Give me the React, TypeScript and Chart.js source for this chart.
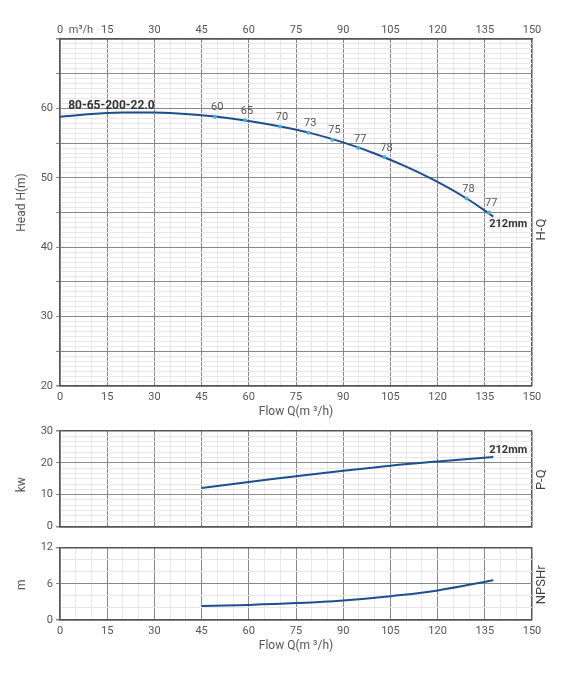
import React, { useEffect, useRef } from 'react';
import { Chart, registerables } from 'chart.js';

Chart.register(...registerables);

// H-Q curve (212mm impeller)
const flowHQ = [0, 10, 20, 30, 40, 50, 60, 70, 80, 90, 100, 110, 120, 130, 137.7];
const headHQ = [58.8, 59.2, 59.4, 59.4, 59.2, 58.8, 58.2, 57.4, 56.4, 55.1, 53.5, 51.6, 49.4, 46.8, 44.4];

// efficiency marks along H-Q
const effFlow = [49.3, 58.8, 69.9, 78.9, 86.6, 94.8, 103.1, 129.2, 136.4];
const effHead = [58.8, 58.3, 57.4, 56.5, 55.5, 54.3, 53.0, 47.0, 45.0];
const effLabels = ['60', '65', '70', '73', '75', '77', '78', '78', '77'];

// P-Q curve
const flowPQ = [45, 60, 75, 90, 105, 120, 137.7];
const powerPQ = [12.1, 14.0, 15.8, 17.5, 19.1, 20.4, 21.8];

// NPSHr curve
const flowNPSH = [45, 60, 75, 90, 105, 120, 137.7];
const npshR = [2.3, 2.5, 2.8, 3.25, 3.95, 4.9, 6.6];

const modelName = '80-65-200-22.0';
const impeller = '212mm';
const flowTitle = 'Flow Q(m \u00b3/h)';

const FONT = 'Roboto, "Noto Sans", sans-serif';
const TEXT = '#555';
const MAJOR = '#888';
const MINOR = '#e7e7e7';
const EDGE = '#555';
const LINE = '#1d4f8f';
const DOT = '#4aaee3';

const isMult = (v: number, m: number) => Math.abs(v / m - Math.round(v / m)) < 1e-6;
const isEdge = (c: any) => {
  const v = c.tick?.value;
  return v !== undefined && (Math.abs(v - c.scale.min) < 1e-6 || Math.abs(v - c.scale.max) < 1e-6);
};

const toXY = (xs: number[], ys: number[]) => xs.map((x, i) => ({ x, y: ys[i] }));

function xAxis(height: number, showLabels: boolean) {
  return {
    type: 'linear',
    position: 'bottom',
    min: 0,
    max: 150,
    afterFit: (s: any) => { s.height = height; },
    border: { color: EDGE, width: 1.5 },
    grid: {
      drawTicks: false,
      color: (c: any) => (isEdge(c) ? EDGE : isMult(c.tick.value, 15) ? MAJOR : MINOR),
      lineWidth: (c: any) => (isEdge(c) ? 1.5 : 1),
    },
    ticks: {
      display: showLabels,
      stepSize: 5,
      autoSkip: false,
      maxRotation: 0,
      padding: 5,
      color: TEXT,
      font: { family: FONT, size: 11 },
      callback: (v: number) => (isMult(v, 15) ? String(Math.round(v)) : ''),
    },
  };
}

function yAxis(min: number, max: number, step: number, major: number, labelEvery: number, hide?: number) {
  return {
    type: 'linear',
    position: 'left',
    min,
    max,
    afterFit: (s: any) => { s.width = 60; },
    border: { color: EDGE, width: 1.5 },
    grid: {
      tickLength: 4,
      color: (c: any) => (isEdge(c) ? EDGE : isMult(c.tick.value, major) ? MAJOR : MINOR),
      tickColor: (c: any) => (isMult(c.tick.value, major) ? MAJOR : 'rgba(0,0,0,0)'),
      lineWidth: (c: any) => (isEdge(c) ? 1.5 : 1),
    },
    ticks: {
      stepSize: step,
      autoSkip: false,
      padding: 3,
      color: TEXT,
      font: { family: FONT, size: 11 },
      callback: (v: number) =>
        isMult(v, labelEvery) && (hide === undefined || Math.abs(v - hide) > 1e-6) ? String(Math.round(v)) : '',
    },
  };
}

function vText(ctx: CanvasRenderingContext2D, text: string, x: number, y: number, font: string, color: string) {
  ctx.save();
  ctx.translate(x, y);
  ctx.rotate(-Math.PI / 2);
  ctx.font = font;
  ctx.fillStyle = color;
  ctx.textAlign = 'center';
  ctx.textBaseline = 'middle';
  ctx.fillText(text, 0, 0);
  ctx.restore();
}

function textPlugin(draw: (chart: any, ctx: CanvasRenderingContext2D) => void) {
  return {
    id: 'texts',
    afterDraw(chart: any) {
      const ctx = chart.ctx;
      ctx.save();
      draw(chart, ctx);
      ctx.restore();
    },
  };
}

const lineStyle = {
  borderColor: LINE,
  borderWidth: 2,
  pointRadius: 0,
  tension: 0.4,
  fill: false,
};

function buildHQ(): any {
  return {
    type: 'line',
    data: {
      datasets: [
        {
          data: toXY(effFlow, effHead),
          showLine: false,
          pointRadius: 2,
          pointBackgroundColor: DOT,
          pointBorderWidth: 0,
          order: 1,
          xAxisID: 'x',
          yAxisID: 'y',
        },
        { ...lineStyle, data: toXY(flowHQ, headHQ), order: 2, xAxisID: 'x', yAxisID: 'y' },
      ],
    },
    options: {
      responsive: false,
      animation: false,
      events: [],
      layout: { padding: { left: 0, right: 38, top: 0, bottom: 0 } },
      plugins: { legend: { display: false }, tooltip: { enabled: false } },
      scales: {
        x: xAxis(34, true),
        xTop: {
          type: 'linear',
          position: 'top',
          min: 0,
          max: 150,
          afterFit: (s: any) => { s.height = 39; },
          border: { color: EDGE, width: 1.5 },
          grid: { display: false, drawTicks: false },
          ticks: {
            stepSize: 15,
            autoSkip: false,
            maxRotation: 0,
            padding: 2,
            color: TEXT,
            font: { family: FONT, size: 11 },
          },
        },
        y: yAxis(20, 70, 5 / 7, 5, 10, 70),
      },
    },
    plugins: [
      textPlugin((chart, ctx) => {
        const { left, right, top, bottom } = chart.chartArea;
        const xs = chart.scales.x;
        const ys = chart.scales.y;
        ctx.fillStyle = TEXT;
        ctx.font = `11px ${FONT}`;
        ctx.textAlign = 'center';
        ctx.textBaseline = 'middle';
        ctx.fillText('m\u00b3/h', left + 21, top - 9);
        const meta = chart.getDatasetMeta(0);
        meta.data.forEach((pt: any, i: number) => {
          ctx.fillText(effLabels[i], pt.x + 2, pt.y - 9);
        });
        ctx.font = `12px ${FONT}`;
        ctx.fillText(flowTitle, (left + right) / 2, bottom + 26);
        ctx.fillStyle = '#333';
        ctx.font = `bold 12px ${FONT}`;
        ctx.textAlign = 'left';
        ctx.fillText(modelName, xs.getPixelForValue(2.6), ys.getPixelForValue(60.4));
        ctx.font = `bold 11px ${FONT}`;
        ctx.fillText(impeller, xs.getPixelForValue(136.4), ys.getPixelForValue(43.3));
        vText(ctx, 'Head H(m)', 22, (top + bottom) / 2 - 10, `12px ${FONT}`, TEXT);
        vText(ctx, 'H-Q', right + 10, (top + bottom) / 2 + 17, `13px ${FONT}`, '#444');
      }),
    ],
  };
}

function buildPQ(): any {
  return {
    type: 'line',
    data: { datasets: [{ ...lineStyle, data: toXY(flowPQ, powerPQ) }] },
    options: {
      responsive: false,
      animation: false,
      events: [],
      layout: { padding: { left: 0, right: 38, top: 11, bottom: 0 } },
      plugins: { legend: { display: false }, tooltip: { enabled: false } },
      scales: {
        x: xAxis(11.5, false),
        y: yAxis(0, 30, 10 / 6, 10, 10),
      },
    },
    plugins: [
      textPlugin((chart, ctx) => {
        const { right, top, bottom } = chart.chartArea;
        const xs = chart.scales.x;
        const ys = chart.scales.y;
        ctx.fillStyle = '#333';
        ctx.font = `bold 11px ${FONT}`;
        ctx.textAlign = 'left';
        ctx.textBaseline = 'middle';
        ctx.fillText(impeller, xs.getPixelForValue(136.4), ys.getPixelForValue(24));
        vText(ctx, 'kw', 22, (top + bottom) / 2 + 6, `12px ${FONT}`, TEXT);
        vText(ctx, 'P-Q', right + 10, (top + bottom) / 2 + 1, `13px ${FONT}`, '#444');
      }),
    ],
  };
}

function buildNPSH(): any {
  return {
    type: 'line',
    data: { datasets: [{ ...lineStyle, data: toXY(flowNPSH, npshR) }] },
    options: {
      responsive: false,
      animation: false,
      events: [],
      layout: { padding: { left: 0, right: 38, top: 9, bottom: 0 } },
      plugins: { legend: { display: false }, tooltip: { enabled: false } },
      scales: {
        x: xAxis(63, true),
        y: yAxis(0, 12, 2, 6, 6),
      },
    },
    plugins: [
      textPlugin((chart, ctx) => {
        const { left, right, top, bottom } = chart.chartArea;
        ctx.fillStyle = TEXT;
        ctx.font = `12px ${FONT}`;
        ctx.textAlign = 'center';
        ctx.textBaseline = 'middle';
        ctx.fillText(flowTitle, (left + right) / 2, bottom + 26);
        vText(ctx, 'm', 22, (top + bottom) / 2 + 1, `12px ${FONT}`, TEXT);
        vText(ctx, 'NPSHr', right + 10, (top + bottom) / 2 + 1, `13px ${FONT}`, '#444');
      }),
    ],
  };
}

function ChartCanvas({ top, height, build }: { top: number; height: number; build: () => any }) {
  const ref = useRef<HTMLCanvasElement>(null);
  useEffect(() => {
    if (!ref.current) return;
    const chart = new Chart(ref.current, build());
    return () => chart.destroy();
  }, []);
  return (
    <canvas
      ref={ref}
      width={570}
      height={height}
      style={{ position: 'absolute', left: 0, top, width: 570, height }}
    />
  );
}

export default function App() {
  return (
    <div style={{ position: 'fixed', left: 0, top: 0, width: 570, height: 683, background: '#fff' }}>
      <ChartCanvas top={0} height={420} build={buildHQ} />
      <ChartCanvas top={420} height={118} build={buildPQ} />
      <ChartCanvas top={538} height={145} build={buildNPSH} />
    </div>
  );
}
